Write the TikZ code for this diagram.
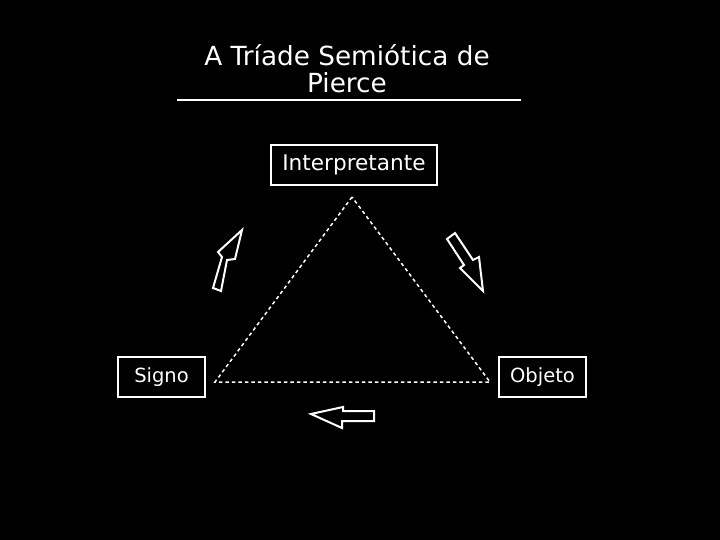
\documentclass[tikz,border=0pt]{standalone}
\usepackage{fontspec}
\setmainfont{DejaVu Sans}
\begin{document}
\begin{tikzpicture}[x=1pt,y=-1pt,
  box/.style={draw=white,line width=2pt,minimum height=40pt,inner sep=0pt,text=white,font=\fontsize{19.5}{24}\selectfont},
  dashline/.style={draw=white,line width=1.5pt,dash pattern=on 3.5pt off 3pt},
  harrow/.style={draw=white,line width=2pt,line join=miter}]
\fill[black] (0,0) rectangle (720,540);
\useasboundingbox (0,0) rectangle (720,540);
\node[text=white,align=center,font=\fontsize{26.3}{27}\selectfont] (title) at (347,69) {A Tríade Semiótica de\\Pierce};
\coordinate (r1) at (177,100);
\coordinate (r2) at (521,100);
\draw[white,line width=2pt] (r1) -- (r2);
\node[box,minimum width=166pt,font=\fontsize{21.6}{24}\selectfont] (interp) at (354,165) {Interpretante};
\node[box,minimum width=87pt] (signo) at (161.5,377) {Signo};
\node[box,minimum width=87pt] (objeto) at (542.5,377) {Objeto};
\coordinate (apex) at (352,197);
\coordinate (bl) at (215,382);
\coordinate (br) at (490,382);
\draw[dashline] (apex) -- (bl) -- (br) -- cycle;
% up-left arrow
\draw[harrow] (213,288) -- (222,257) -- (218,252) -- (242,230) -- (235,259) -- (227,260) -- (221,291) -- cycle;
% down-right arrow
\draw[harrow] (447,239) -- (464,265) -- (460,268) -- (483,291) -- (479,257) -- (473,260) -- (455,233) -- cycle;
% left arrow
\draw[harrow] (374,411) -- (343,411) -- (343,407) -- (311,414) -- (342,428) -- (342,421) -- (374,421) -- cycle;
\end{tikzpicture}
\end{document}
